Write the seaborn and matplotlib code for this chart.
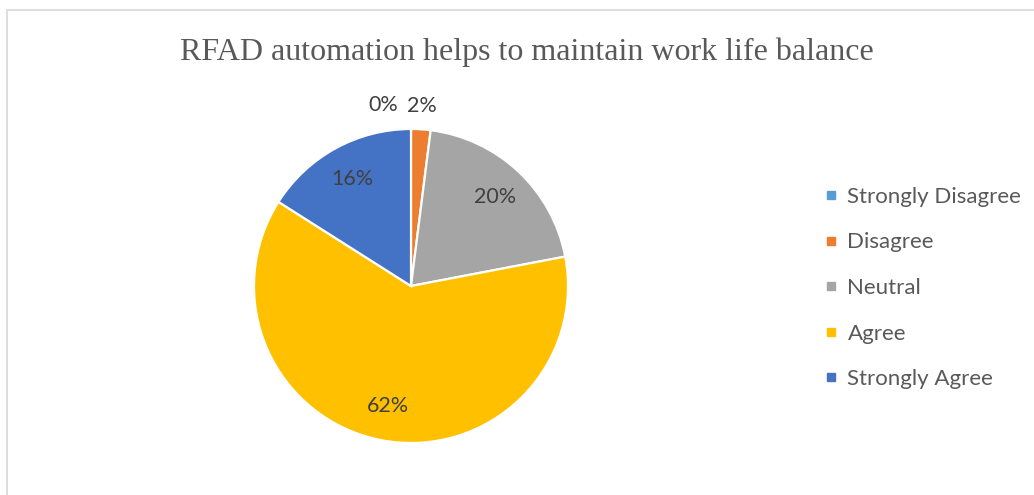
import matplotlib
matplotlib.use("Agg")
import matplotlib.pyplot as plt
from matplotlib.lines import Line2D
from matplotlib.patches import Rectangle
import numpy as np
import seaborn as sns

# Survey responses
categories = ["Strongly Disagree", "Disagree", "Neutral", "Agree", "Strongly Agree"]
shares = [0, 2, 20, 62, 16]
colors = ["#5B9BD5", "#ED7D31", "#A5A5A5", "#FFC000", "#4472C4"]
title = "RFAD automation helps to maintain work life balance"

sns.set_theme(style="white")
plt.rcParams["font.family"] = ["Lato", "DejaVu Sans"]

W, H = 1034, 495
fig = plt.figure(figsize=(W / 100, H / 100), dpi=100)
fig.patch.set_facecolor("white")

# chart-area frame
fig.add_artist(Rectangle((7 / W, -0.2), 1.5, 1 - 10 / H + 0.2, transform=fig.transFigure,
                         fill=False, edgecolor="#D9D9D9", linewidth=1.2))

cx, cy, r = 411, 286, 157
ax = fig.add_axes([(cx - r) / W, (H - cy - r) / H, 2 * r / W, 2 * r / H])
wedges, _ = ax.pie(shares, colors=colors, startangle=90, counterclock=False,
                   radius=1.0, wedgeprops=dict(edgecolor="white", linewidth=1.6))
ax.set_xlim(-1, 1)
ax.set_ylim(-1, 1)
ax.set_aspect("equal")
ax.axis("off")

# percentage labels: inside for large slices, outside for small ones
label_kw = dict(fontsize=15.5, color="#404040", va="center")
total = sum(shares)
for w, v in zip(wedges, shares):
    mid = np.deg2rad((w.theta1 + w.theta2) / 2)
    frac = v / total
    if frac < 0.05:
        d = 1.15
        x, y = d * np.cos(mid), d * np.sin(mid)
        if v == 0:
            ax.annotate(f"{v}%", (x, y), xytext=(-9, 0), textcoords="offset points",
                        ha="right", annotation_clip=False, **label_kw)
        else:
            ax.text(x, y, f"{v}%", ha="center", **label_kw)
    else:
        d = 0.78
        ax.text(d * np.cos(mid), d * np.sin(mid), f"{v}%", ha="center", **label_kw)

fig.text(527 / W, 1 - 52 / H, title, ha="center", va="center",
         family="Liberation Serif", fontsize=23, color="#595959")

handles = [Line2D([], [], marker="s", linestyle="none", markersize=6,
                  markerfacecolor=c, markeredgecolor=c) for c in colors]
fig.legend(handles, categories, loc="center left", bbox_to_anchor=(813 / W, 1 - 288 / H),
           frameon=False, fontsize=16, labelcolor="#595959", handlelength=0.6,
           handletextpad=0.45, labelspacing=1.15, borderpad=0)

fig.savefig("out.png", dpi=100, facecolor="white")
